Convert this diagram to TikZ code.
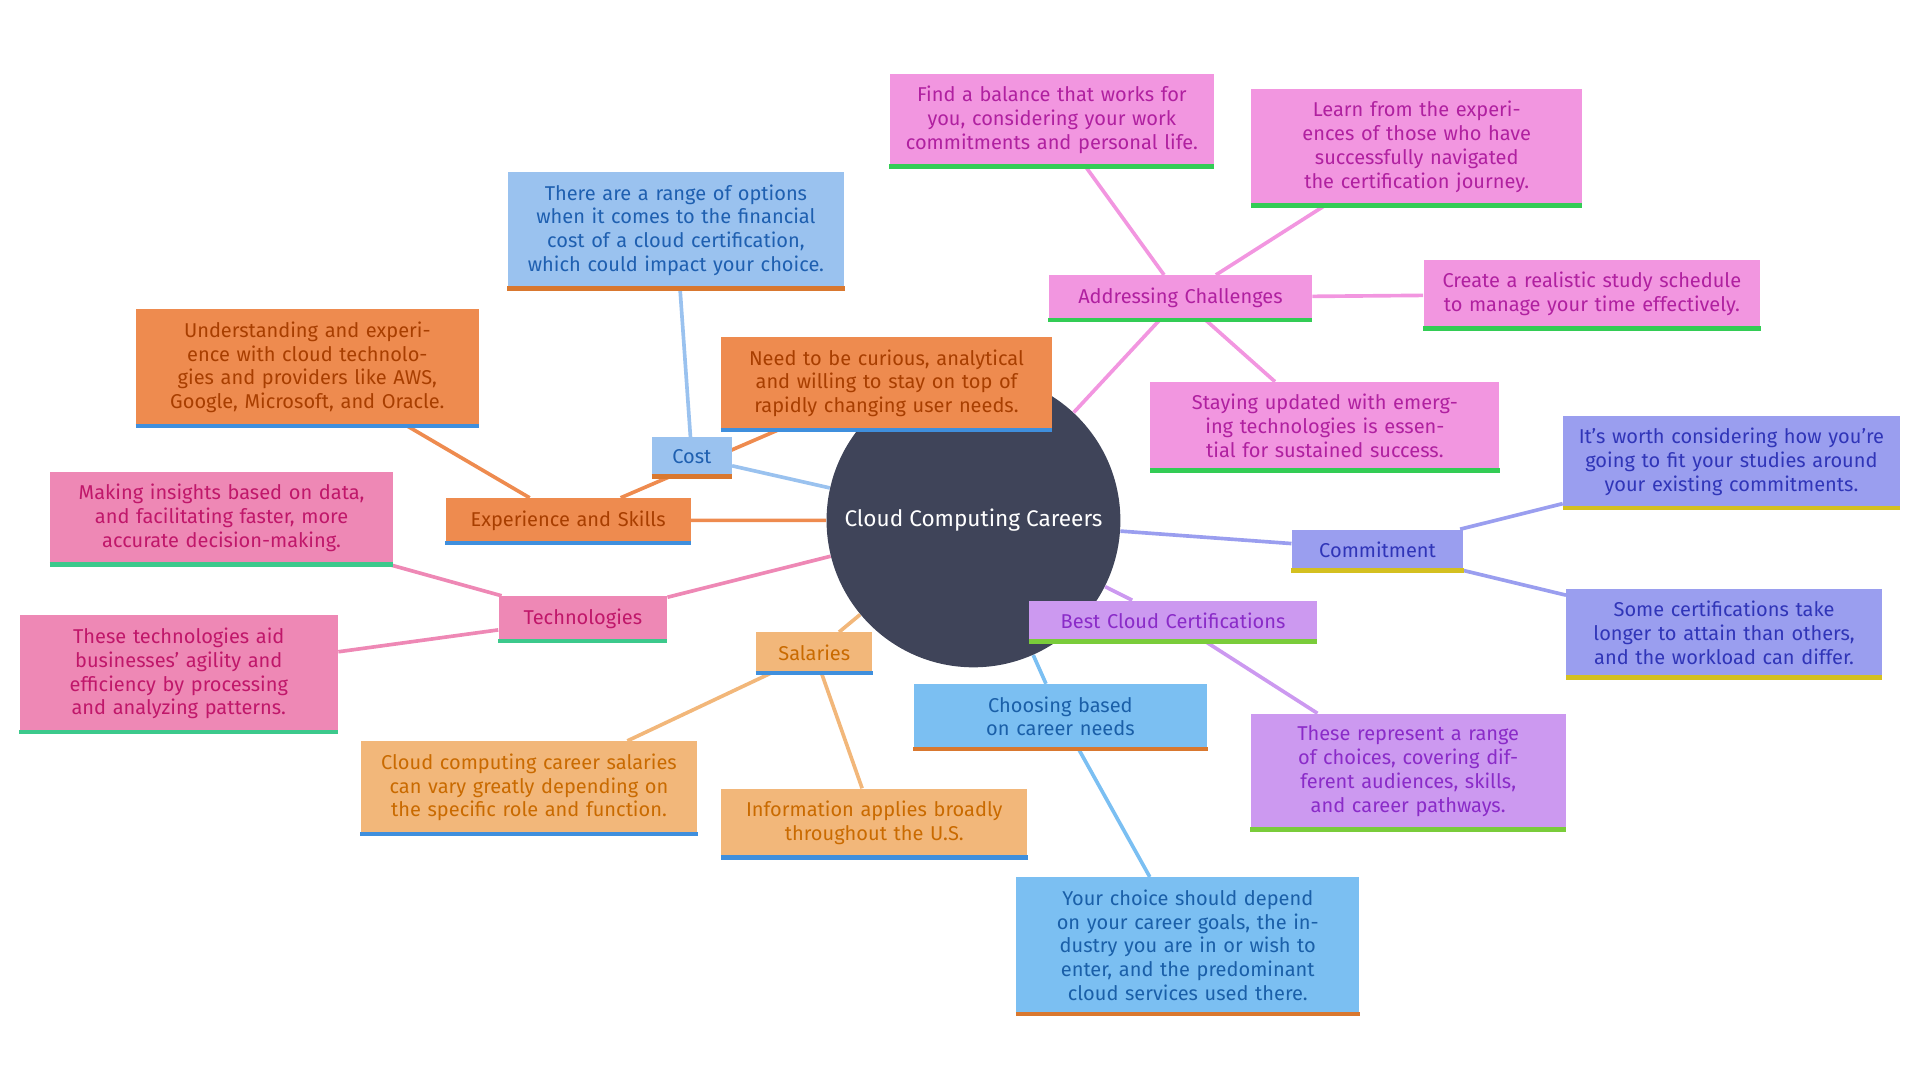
\documentclass[tikz,border=0pt]{standalone}
\usepackage{fontspec}
\setmainfont{Fira Sans}
\usetikzlibrary{backgrounds}
\definecolor{hubgray}{HTML}{3F4459}
\definecolor{costfill}{HTML}{9AC2EF}\definecolor{costtext}{HTML}{1E5FB0}
\definecolor{expfill}{HTML}{EE8B4F}\definecolor{exptext}{HTML}{A83E00}
\definecolor{techfill}{HTML}{EE88B5}\definecolor{techtext}{HTML}{C0176A}
\definecolor{salfill}{HTML}{F2B77A}\definecolor{saltext}{HTML}{C96A00}
\definecolor{choosefill}{HTML}{7BBFF2}\definecolor{choosetext}{HTML}{1A5FA8}
\definecolor{bestfill}{HTML}{CC99F0}\definecolor{besttext}{HTML}{8A2BC8}
\definecolor{comfill}{HTML}{9A9EEF}\definecolor{comtext}{HTML}{3035B8}
\definecolor{addrfill}{HTML}{F296E0}\definecolor{addrtext}{HTML}{B020A0}
\definecolor{lineorange}{HTML}{D9782F}\definecolor{lineblue}{HTML}{3F8FDD}
\definecolor{linegreen}{HTML}{3CC98C}\definecolor{linelime}{HTML}{7ACC3A}
\definecolor{lineyellow}{HTML}{D4C020}\definecolor{linegrass}{HTML}{33CC55}
\begin{document}
\begin{tikzpicture}[x=0.02cm,y=-0.02cm,
  box/.style n args={4}{fill=#1,text=#2,rectangle,inner sep=0.2cm,
    text width=#4,align=center,font=\fontsize{9.3}{11.1}\selectfont,
    append after command={(\tikzlastnode.south west) edge[draw=#3,line width=2pt] (\tikzlastnode.south east)}},
  link/.style={line width=1.7pt,draw=#1}]
  \useasboundingbox (0,0) rectangle (1568,882);
  % hub
  \node[circle,fill=hubgray,minimum size=4.8cm,text=white,font=\fontsize{10.5}{12}\selectfont] (hub) at (795,425) {Cloud Computing Careers};
  % branches
  \node[box={costfill}{costtext}{lineorange}{0.9cm}] (cost) at (565,373) {Cost};
  \node[box={expfill}{exptext}{lineblue}{3.6cm}] (exp) at (464,425) {Experience and Skills};
  \node[box={techfill}{techtext}{linegreen}{2.35cm}] (tech) at (476,505) {Technologies};
  \node[box={salfill}{saltext}{lineblue}{1.5cm}] (sal) at (665,533) {Salaries};
  \node[box={choosefill}{choosetext}{lineorange}{4.4cm}] (choose) at (866,585) {Choosing based on career needs};
  \node[box={bestfill}{besttext}{linelime}{4.3cm}] (best) at (958,507) {Best Cloud Certifications};
  \node[box={comfill}{comtext}{lineyellow}{2.4cm}] (com) at (1125,449) {Commitment};
  \node[box={addrfill}{addrtext}{linegrass}{3.9cm}] (addr) at (964,243) {Addressing Challenges};
  % leaves
  \node[box={costfill}{costtext}{lineorange}{5.1cm}] (costA) at (552,188) {There are a range of options when it comes to the financial cost of a cloud certification, which could impact your choice.};
  \node[box={expfill}{exptext}{lineblue}{5.2cm}] (expA) at (251,300) {Understanding and experience with cloud technologies and providers like AWS, Google, Microsoft, and Oracle.};
  \node[box={expfill}{exptext}{lineblue}{5.0cm}] (expB) at (724,313) {Need to be curious, analytical and willing to stay on top of rapidly changing user needs.};
  \node[box={techfill}{techtext}{linegreen}{5.2cm}] (techA) at (181,423) {Making insights based on data, and facilitating faster, more accurate decision-making.};
  \node[box={techfill}{techtext}{linegreen}{4.8cm}] (techB) at (146,550) {These technologies aid businesses' agility and efficiency by processing and analyzing patterns.};
  \node[box={salfill}{saltext}{lineblue}{5.1cm}] (salA) at (432,643) {Cloud computing career salaries can vary greatly depending on the specific role and function.};
  \node[box={salfill}{saltext}{lineblue}{4.6cm}] (salB) at (714,672) {Information applies broadly throughout the U.S.};
  \node[box={choosefill}{choosetext}{lineorange}{5.2cm}] (chooseA) at (970,772) {Your choice should depend on your career goals, the industry you are in or wish to enter, and the predominant cloud services used there.};
  \node[box={bestfill}{besttext}{linelime}{4.75cm}] (bestA) at (1150,630) {These represent a range of choices, covering different audiences, skills, and career pathways.};
  \node[box={comfill}{comtext}{lineyellow}{5.1cm}] (comA) at (1414,377) {It's worth considering how you're going to fit your studies around your existing commitments.};
  \node[box={comfill}{comtext}{lineyellow}{4.75cm}] (comB) at (1408,517) {Some certifications take longer to attain than others, and the workload can differ.};
  \node[box={addrfill}{addrtext}{linegrass}{4.9cm}] (addrA) at (859,98) {Find a balance that works for you, considering your work commitments and personal life.};
  \node[box={addrfill}{addrtext}{linegrass}{5.0cm}] (addrB) at (1157,120) {Learn from the experiences of those who have successfully navigated the certification journey.};
  \node[box={addrfill}{addrtext}{linegrass}{5.1cm}] (addrC) at (1300,240) {Create a realistic study schedule to manage your time effectively.};
  \node[box={addrfill}{addrtext}{linegrass}{5.3cm}] (addrD) at (1082,348) {Staying updated with emerging technologies is essential for sustained success.};
  % connectors
  \begin{scope}[on background layer]
    \draw[link=costfill] (hub) -- (cost) (cost) -- (costA);
    \draw[link=expfill] (hub) -- (exp) (exp) -- (expA) (exp) -- (expB);
    \draw[link=techfill] (hub) -- (tech) (tech) -- (techA) (tech) -- (techB);
    \draw[link=salfill] (hub) -- (sal) (sal) -- (salA) (sal) -- (salB);
    \draw[link=choosefill] (hub) -- (choose) (choose) -- (chooseA);
    \draw[link=bestfill] (hub) -- (best) (best) -- (bestA);
    \draw[link=comfill] (hub) -- (com) (com) -- (comA) (com) -- (comB);
    \draw[link=addrfill] (hub) -- (addr) (addr) -- (addrA) (addr) -- (addrB)
      (addr) -- (addrC) (addr) -- (addrD);
  \end{scope}
\end{tikzpicture}
\end{document}
